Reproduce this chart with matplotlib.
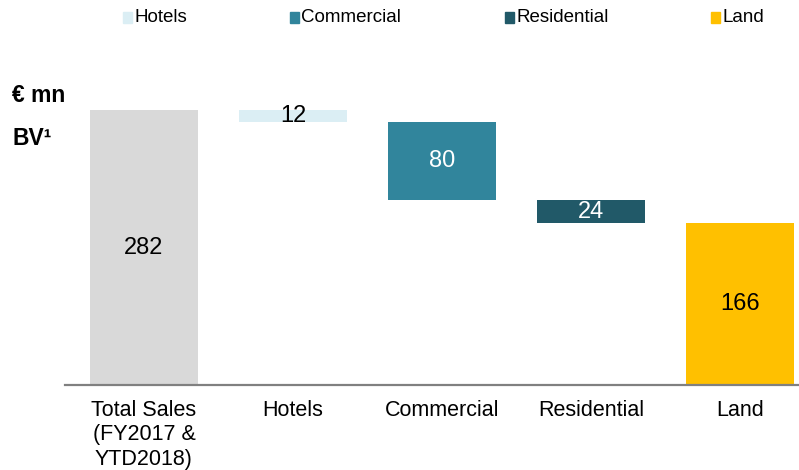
import matplotlib.pyplot as plt
from matplotlib.patches import Rectangle

plt.rcParams['font.family'] = ['Liberation Sans', 'DejaVu Sans']

categories = ['Total Sales\n(FY2017 &\nYTD2018)', 'Hotels', 'Commercial', 'Residential', 'Land']
total = 282
steps = [12, 80, 24]          # Hotels, Commercial, Residential (drops)
land = 166
colors = ['#d9d9d9', '#dbeef4', '#31859c', '#215968', '#ffc000']
text_colors = ['black', 'black', 'white', 'white', 'black']
legend_names = ['Hotels', 'Commercial', 'Residential', 'Land']

# waterfall heights and bottoms
heights = [total] + steps + [land]
bottoms = [0]
level = total
for s in steps:
    level -= s
    bottoms.append(level)
bottoms.append(0)

fig = plt.figure(figsize=(7.99, 4.70), dpi=100)
ax = fig.add_axes([65 / 799, 85 / 470, 734 / 799, 345 / 470])

x = list(range(len(categories)))
bars = ax.bar(x, heights, bottom=bottoms, width=0.725, color=colors)
for b, h, tc in zip(bars, heights, text_colors):
    ax.text(b.get_x() + b.get_width() / 2, b.get_y() + h / 2, str(h),
            ha='center', va='center', fontsize=17, color=tc)

ax.set_xlim(-0.53, 4.396)
ax.set_ylim(0, 354)
ax.set_yticks([])
ax.set_xticks(x)
ax.set_xticklabels(categories, fontsize=15.5, linespacing=1.2, va='top')
ax.tick_params(axis='x', length=0, pad=11)
for sp in ['top', 'right', 'left']:
    ax.spines[sp].set_visible(False)
ax.spines['bottom'].set_color('#808080')
ax.spines['bottom'].set_linewidth(1.6)

# unit labels
fig.text(12 / 799, 1 - 96 / 470, '€ mn', fontsize=16.5, fontweight='bold', va='center')
fig.text(12 / 799, 1 - 139 / 470, 'BV¹', fontsize=16.5, fontweight='bold', va='center')

# legend drawn manually along the top
leg_x = [123, 290, 505, 711]
for lx, name, c in zip(leg_x, legend_names, colors[1:]):
    fig.add_artist(Rectangle((lx / 799, 1 - 23 / 470), 9 / 799, 11 / 470,
                             color=c, transform=fig.transFigure))
    fig.text((lx + 11) / 799, 1 - 17 / 470, name, fontsize=13.5, va='center')

plt.savefig('out.png', dpi=100)
